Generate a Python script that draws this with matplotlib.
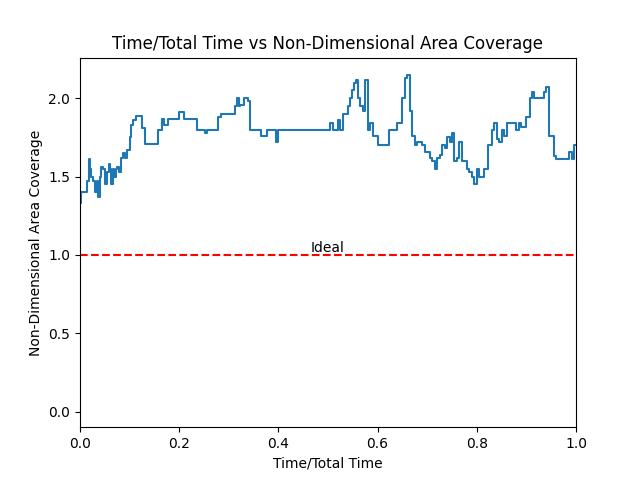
import matplotlib
matplotlib.use("Agg")
import matplotlib.pyplot as plt

# breakpoints (time fraction, coverage)
t = [0.000, 0.002, 0.005, 0.015, 0.018, 0.020, 0.022, 0.026, 0.030, 0.034, 0.037, 0.040,
     0.043, 0.046, 0.050, 0.054, 0.058, 0.060, 0.063, 0.066, 0.069, 0.072, 0.075, 0.078,
     0.082, 0.086, 0.090, 0.094, 0.098, 0.100, 0.103, 0.106, 0.112, 0.125, 0.132, 0.138,
     0.140, 0.150, 0.153, 0.158, 0.165, 0.170, 0.178, 0.182, 0.200, 0.204, 0.210, 0.230,
     0.235, 0.245, 0.252, 0.256, 0.266, 0.272, 0.278, 0.285, 0.310, 0.312, 0.316, 0.320,
     0.323, 0.330, 0.338, 0.342, 0.350, 0.365, 0.372, 0.378, 0.388, 0.396, 0.400, 0.440,
     0.445, 0.455, 0.460, 0.465, 0.470, 0.475, 0.480, 0.500, 0.505, 0.510, 0.515, 0.520,
     0.525, 0.530, 0.540, 0.545, 0.548, 0.552, 0.556, 0.560, 0.565, 0.570, 0.575, 0.580,
     0.585, 0.590, 0.600, 0.618, 0.622, 0.632, 0.640, 0.645, 0.650, 0.655, 0.660, 0.665,
     0.670, 0.675, 0.680, 0.690, 0.695, 0.700, 0.705, 0.710, 0.715, 0.720, 0.725, 0.730,
     0.735, 0.740, 0.745, 0.750, 0.755, 0.760, 0.765, 0.770, 0.775, 0.780, 0.785, 0.790,
     0.795, 0.800, 0.805, 0.815, 0.818, 0.822, 0.830, 0.835, 0.840, 0.845, 0.850, 0.855,
     0.860, 0.870, 0.880, 0.885, 0.890, 0.900, 0.908, 0.912, 0.915, 0.935, 0.940, 0.945,
     0.955, 0.960, 0.980, 0.985, 0.992, 0.995, 1.000]
cov = [1.33, 1.40, 1.40, 1.47, 1.61, 1.55, 1.50, 1.47, 1.40, 1.47, 1.37, 1.50,
       1.56, 1.55, 1.45, 1.53, 1.58, 1.55, 1.45, 1.55, 1.50, 1.55, 1.56, 1.53,
       1.62, 1.65, 1.62, 1.67, 1.67, 1.75, 1.83, 1.86, 1.89, 1.81, 1.71, 1.71,
       1.71, 1.71, 1.71, 1.80, 1.87, 1.83, 1.87, 1.87, 1.91, 1.91, 1.87, 1.87,
       1.80, 1.80, 1.78, 1.80, 1.80, 1.80, 1.88, 1.90, 1.90, 1.95, 2.00, 1.95,
       1.96, 2.00, 1.98, 1.80, 1.80, 1.76, 1.76, 1.80, 1.80, 1.72, 1.80, 1.80,
       1.80, 1.80, 1.80, 1.80, 1.80, 1.80, 1.80, 1.80, 1.84, 1.80, 1.80, 1.86,
       1.80, 1.90, 1.95, 2.00, 2.05, 2.10, 2.12, 2.00, 1.95, 1.92, 2.12, 1.80,
       1.84, 1.76, 1.70, 1.70, 1.80, 1.80, 1.84, 1.84, 2.00, 2.13, 2.15, 1.92,
       1.76, 1.70, 1.72, 1.70, 1.66, 1.66, 1.62, 1.60, 1.55, 1.62, 1.64, 1.70,
       1.68, 1.75, 1.72, 1.78, 1.60, 1.62, 1.72, 1.60, 1.60, 1.55, 1.53, 1.50,
       1.45, 1.55, 1.50, 1.55, 1.55, 1.70, 1.80, 1.84, 1.74, 1.72, 1.80, 1.76,
       1.84, 1.84, 1.80, 1.84, 1.82, 1.88, 2.00, 2.04, 2.00, 2.04, 2.07, 1.76,
       1.63, 1.61, 1.61, 1.66, 1.61, 1.70, 1.70]

fig, ax = plt.subplots(figsize=(6.4, 4.8), dpi=100)
ax.plot(t, cov, drawstyle='steps-post', color='tab:blue')
ax.axhline(1.0, color='red', linestyle='--')
ax.text(0.5, 1.0, 'Ideal', ha='center', va='bottom')
ax.set_xlim(0, 1)
ax.set_ylim(-0.1, 2.26)
ax.set_title('Time/Total Time vs Non-Dimensional Area Coverage')
ax.set_xlabel('Time/Total Time')
ax.set_ylabel('Non-Dimensional Area Coverage')
fig.savefig('out.png')
